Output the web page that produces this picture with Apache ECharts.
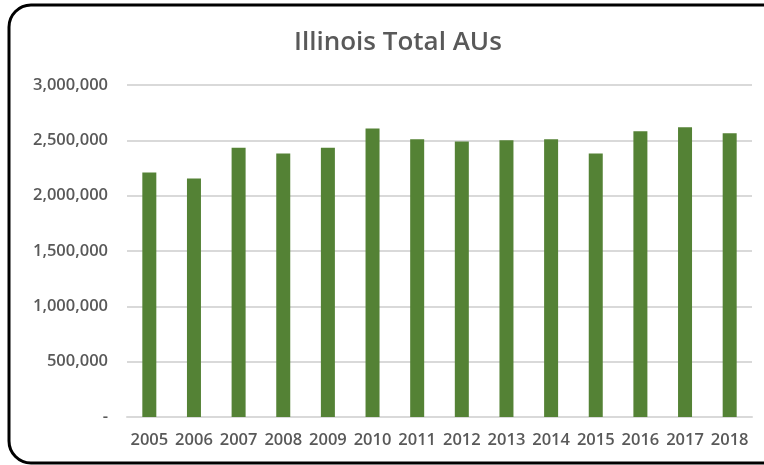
<!DOCTYPE html>
<html>
<head>
<meta charset="utf-8">
<script src="https://cdn.jsdelivr.net/npm/echarts@6/dist/echarts.min.js"></script>
<style>
  html, body { margin: 0; padding: 0; background: #fff; }
  #chart { width: 764px; height: 465px; }
</style>
</head>
<body>
<div id="chart"></div>
<script>
  // data
  const years = ['2005', '2006', '2007', '2008', '2009', '2010', '2011',
                 '2012', '2013', '2014', '2015', '2016', '2017', '2018'];
  const totalAUs = [2210000, 2156000, 2434000, 2380000, 2434000, 2608000, 2509000,
                    2490000, 2500000, 2509000, 2380000, 2581000, 2618000, 2563000];

  const chart = echarts.init(document.getElementById('chart'));

  const labelFont = {
    color: '#595959',
    fontFamily: 'Open Sans',
    fontWeight: 600,
    fontSize: 16.5
  };

  const option = {
    animation: false,
    title: {
      text: 'Illinois Total AUs',
      left: 289,
      top: 25,
      textStyle: {
        color: '#595959',
        fontFamily: 'Open Sans',
        fontWeight: 600,
        fontSize: 26
      }
    },
    // rounded frame around the chart
    graphic: [{
      type: 'rect',
      shape: { x: 9, y: 5, width: 790, height: 458, r: 22 },
      style: { fill: 'none', stroke: '#000', lineWidth: 3 },
      silent: true
    }],
    grid: {
      left: 127,
      right: 12,
      top: 85,
      bottom: 48
    },
    xAxis: {
      type: 'category',
      data: years,
      axisTick: { show: false },
      axisLine: { lineStyle: { color: '#d9d9d9', width: 2 } },
      axisLabel: Object.assign({ margin: 15, interval: 0 }, labelFont)
    },
    yAxis: {
      type: 'value',
      min: 0,
      max: 3000000,
      interval: 500000,
      axisLine: { show: false },
      axisTick: { show: false },
      splitLine: { lineStyle: { color: '#d9d9d9', width: 2 } },
      axisLabel: Object.assign({
        margin: 19,
        formatter: function (v) {
          return v === 0 ? '-' : v.toLocaleString('en-US');
        }
      }, labelFont)
    },
    series: [{
      type: 'bar',
      data: totalAUs,
      barWidth: 14,
      itemStyle: { color: '#548235' }
    }]
  };

  chart.setOption(option);
</script>
</body>
</html>
